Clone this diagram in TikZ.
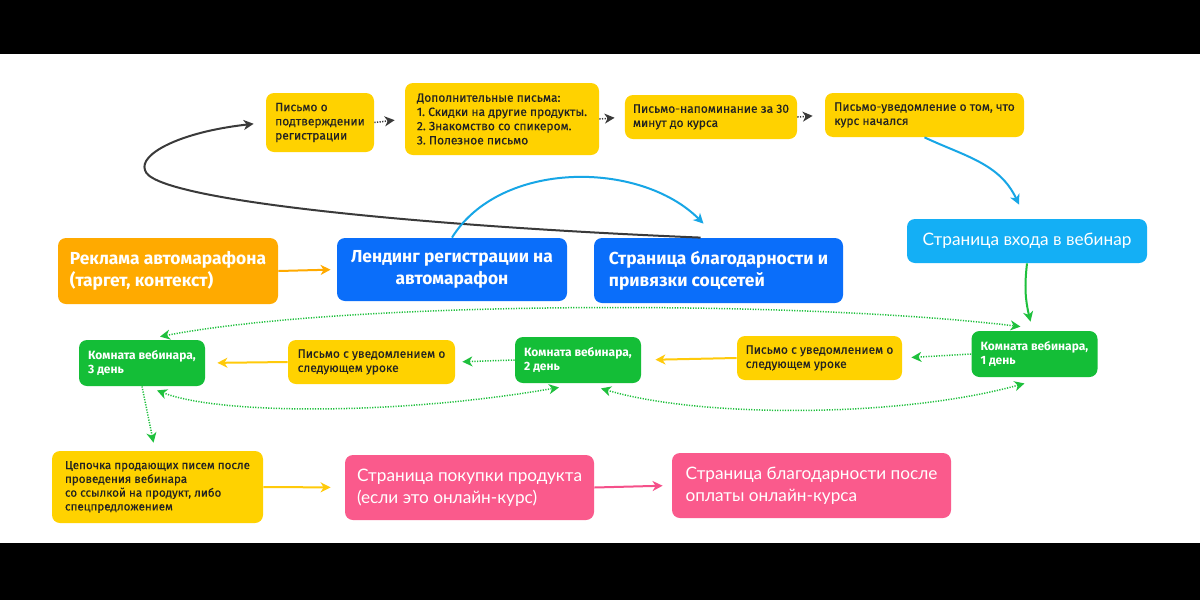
\documentclass[tikz,border=0pt]{standalone}
\usepackage{fontspec}
\setmainfont{Fira Sans}
\newfontfamily\lightfont{Lato}
\newfontfamily\medfont[FakeBold=0.3]{Fira Sans}
\usepackage{tikz}
\usepackage{xcolor}
\usetikzlibrary{arrows.meta}

\definecolor{ylw}{HTML}{FFD200}
\definecolor{org}{HTML}{FFAA00}
\definecolor{blu}{HTML}{0A6EFA}
\definecolor{sky}{HTML}{14AFF5}
\definecolor{grn}{HTML}{14BE37}
\definecolor{pnk}{HTML}{FA5A8C}
\definecolor{ink}{HTML}{222222}
\definecolor{arc}{HTML}{3A3A3A}
\definecolor{bluline}{HTML}{17A6E6}
\definecolor{grnline}{HTML}{1EC03C}
\definecolor{ylwline}{HTML}{FFCA0A}
\definecolor{pnkline}{HTML}{F5508A}

\begin{document}
\frenchspacing
\begin{tikzpicture}[x=0.5pt, y=-0.5pt,
    card/.style={rounded corners=4pt, inner ysep=2pt, align=left},
    mail/.style={card, fill=ylw, text=ink, inner xsep=4pt, minimum width=#1,
                 font=\medfont\fontsize{6}{7.1}\selectfont},
    room/.style={card, fill=grn, text=white, inner xsep=3.5pt, minimum width=63pt,
                 minimum height=23pt, font=\bfseries\fontsize{6}{7.4}\selectfont},
    page/.style={card, text=white, inner xsep=5pt, minimum width=#1,
                 font=\bfseries\fontsize{8.7}{11}\selectfont},
    thin/.style={card, text=white, inner xsep=5pt, minimum width=#1,
                 font=\lightfont\fontsize{8.6}{11}\selectfont},
    tip/.style={-{Stealth[length=5pt, width=5pt, inset=1.5pt]}},
    line/.style={tip, line width=1pt, draw=#1},
    dots/.style={tip, line width=0.75pt, dash pattern=on 0.6pt off 0.7pt, draw=#1},
    both/.style={dots=#1, {Stealth[length=5pt, width=5pt, inset=1.5pt]}-{Stealth[length=5pt, width=5pt, inset=1.5pt]}}]

\fill[white] (0,0) rectangle (1200,600);
\fill[black] (0,0) rectangle (1200,54);
\fill[black] (0,543) rectangle (1200,600);
\useasboundingbox (0,0) rectangle (1200,600);

\node[mail=54pt, minimum height=29.5pt] (conf) at (320,122.5) {Письмо о\\подтверждении\\регистрации};
\node[mail=97pt, minimum height=36pt] (extra) at (502,119) {Дополнительные письма:\\1. Скидки на другие продукты.\\2. Знакомство со спикером.\\3. Полезное письмо};
\node[mail=86pt, minimum height=22pt] (remind) at (711,117) {Письмо-напоминание за 30\\минут до курса};
\node[mail=99.5pt, minimum height=22pt] (started) at (924.5,115) {Письмо-уведомление о том, что\\курс начался};

\node[page=110pt, fill=org, minimum height=33pt] (ad) at (168,271) {Реклама автомарафона\\(таргет, контекст)};
\node[page=115pt, fill=blu, minimum height=31.5pt, align=center] (landing) at (452,269.5) {Лендинг регистрации на\\автомарафон};
\node[page=124.5pt, fill=blu, minimum height=32.5pt] (thanks) at (718.5,270.5) {Страница благодарности и\\привязки соцсетей};
\node[thin=120pt, fill=sky, minimum height=22pt, align=center] (entry) at (1027,241) {Страница входа в вебинар};

\node[room] (day3) at (142,363) {Комната вебинара,\\3 день};
\node[mail=83.5pt, minimum height=22pt] (let1) at (371.5,362) {Письмо с уведомлением о\\следующем уроке};
\node[room] (day2) at (578,360) {Комната вебинара,\\2 день};
\node[mail=82.5pt, minimum height=22pt] (let2) at (819.5,358) {Письмо с уведомлением о\\следующем уроке};
\node[room] (day1) at (1034.5,354) {Комната вебинара,\\1 день};

\node[mail=105.5pt, minimum height=36pt, font=\medfont\fontsize{5.8}{6.9}\selectfont] (chain) at (157.5,487) {Цепочка продающих писем после\\проведения вебинара\\со ссылкой на продукт, либо\\спецпредложением};
\node[thin=124.5pt, fill=pnk, minimum height=32.5pt] (buy) at (469.5,487.5) {Страница покупки продукта\\(если это онлайн-курс)};
\node[thin=139.5pt, fill=pnk, minimum height=32.5pt] (paid) at (811.5,485.5) {Страница благодарности после\\оплаты онлайн-курса};

\draw[dots=arc, shorten >=5pt] (conf.east) -- (extra.west);
\draw[dots=arc, shorten >=5pt] (extra.east) -- (remind.west);
\draw[dots=arc, shorten >=6pt] (remind.east) -- (started.west);
\draw[line=arc, shorten >=6pt] ([xshift=-9pt]thanks.north) .. controls (420,226) and (150,200) .. (145,170)
     .. controls (139,154) and (180,132) .. (conf.west);
\draw[line=bluline] (landing.north) .. controls (500,160) and (640,160) .. ([xshift=-7.5pt, yshift=7pt]thanks.north);
\draw[line=bluline] (started.south) to[out=-25, in=115] ([xshift=-4pt, yshift=7pt]entry.north);
\draw[line=grnline] (entry.south) to[bend right=10] ([xshift=-2pt, yshift=4.5pt]day1.north);
\draw[line=org, shorten >=3pt] (ad.east) -- (landing.west);

\draw[dots=grnline, shorten >=4.5pt] (day1.west) -- (let2.east);
\draw[line=ylwline, shorten >=7pt] (let2.west) -- (day2.east);
\draw[dots=grnline, shorten >=3.5pt] (day2.west) -- (let1.east);
\draw[line=ylwline, shorten >=6pt] (let1.west) -- (day3.east);
\draw[both=grnline] ([xshift=9pt, yshift=1.5pt]day3.north) .. controls (350,300) and (800,300) .. ([xshift=-7pt, yshift=2pt]day1.north);
\draw[both=grnline] ([xshift=7.5pt, yshift=-2pt]day3.south) .. controls (220,415) and (400,415) .. ([xshift=-9.5pt, yshift=-2pt]day2.south);
\draw[both=grnline] ([xshift=11.5pt, yshift=-2.5pt]day2.south) .. controls (700,418) and (900,418) .. ([xshift=-5pt, yshift=-3pt]day1.south);
\draw[dots=grnline] (day3.south) -- ([xshift=-2pt, yshift=4pt]chain.north);

\draw[line=ylwline, shorten >=7pt] (chain.east) -- (buy.west);
\draw[line=pnkline, shorten >=4.5pt] (buy.east) -- (paid.west);
\end{tikzpicture}
\end{document}
